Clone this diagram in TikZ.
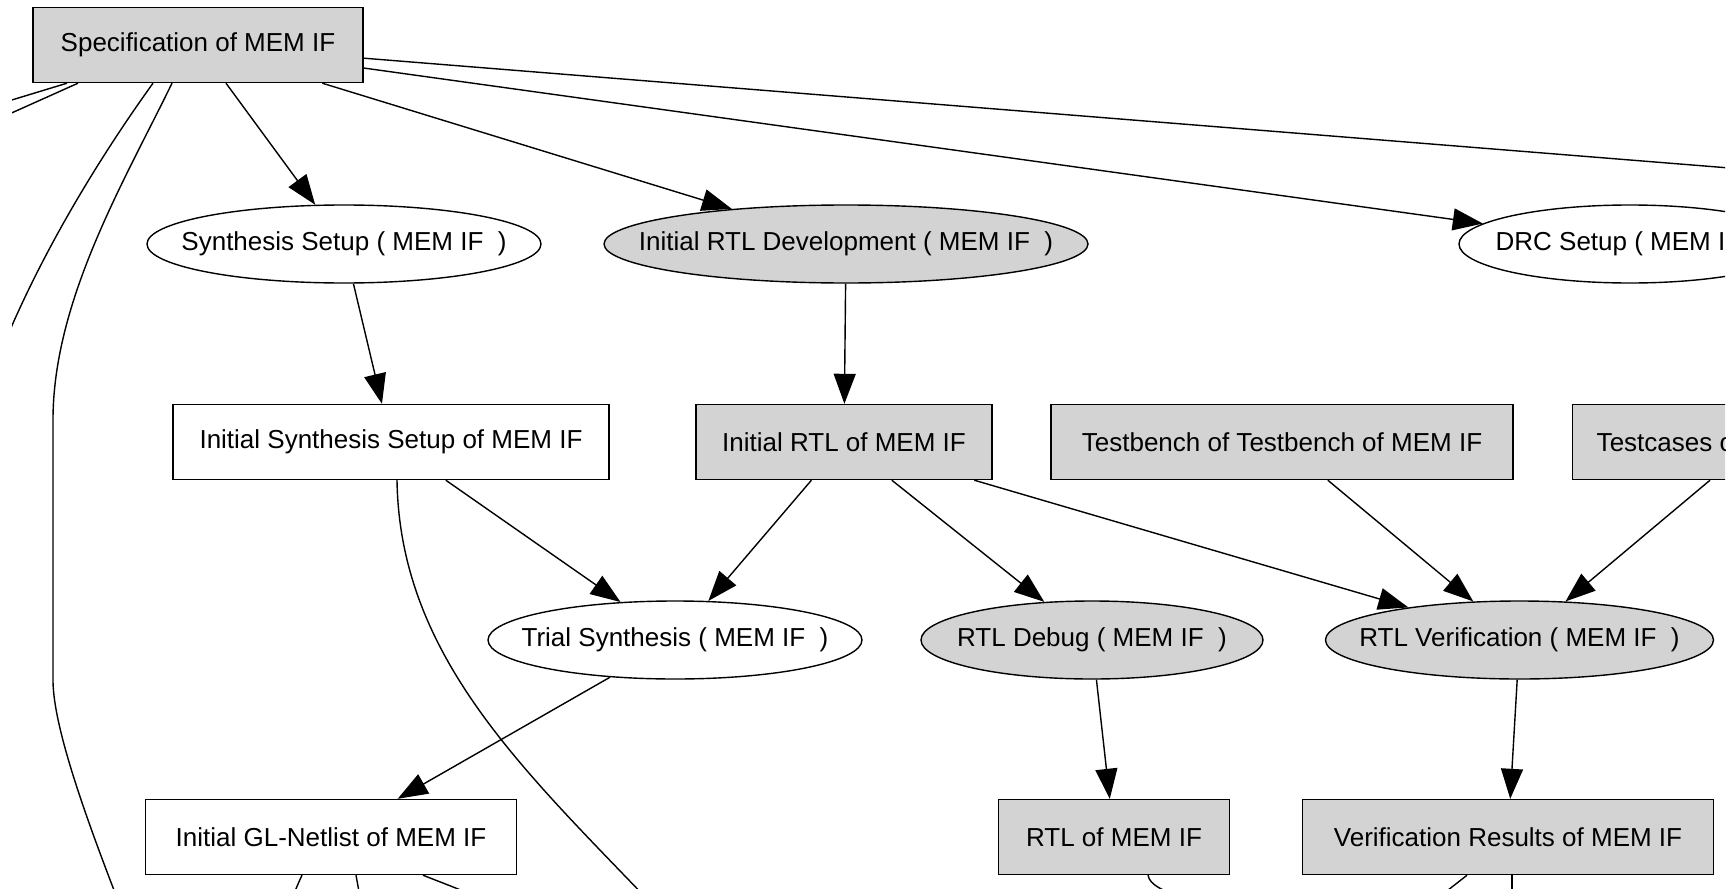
\documentclass[tikz,border=0pt]{standalone}
\usepackage{fontspec}
\setmainfont{Liberation Sans}
\usetikzlibrary{arrows.meta,shapes.geometric}

\definecolor{lightgrey}{RGB}{211,211,211}

\begin{document}
\begin{tikzpicture}[x=.5pt, y=-.5pt, font=\fontsize{13}{15}\selectfont,
    >={Triangle[length=15pt,width=11pt]}, line width=.7pt,
    doc/.style={draw, rectangle, inner xsep=12pt, minimum height=37.5pt},
    task/.style={draw, ellipse, inner sep=0pt, minimum height=39pt},
    done/.style={fill=lightgrey}]
    \useasboundingbox (0,0) rectangle (1733,888);
    \clip (12,0) rectangle (1725,888);
    % work products
    \node[doc,done,minimum width=165pt] (spec) at (198,45) {Specification of MEM IF};
    \node[doc,minimum width=218pt] (isetup) at (391,442) {Initial Synthesis Setup of MEM IF};
    \node[doc,done,minimum width=148pt] (irtl) at (844,442) {Initial RTL of MEM IF};
    \node[doc,done,minimum width=231pt] (tbench) at (1282,442) {Testbench of Testbench of MEM IF};
    \node[doc,done,anchor=west] (tcases) at (1572,442) {Testcases of Testbench of MEM IF};
    \node[doc,minimum width=185.5pt] (glnet) at (331,837) {Initial GL-Netlist of MEM IF};
    \node[doc,done,minimum width=115.5pt] (rtlmem) at (1114,837) {RTL of MEM IF};
    \node[doc,done,minimum width=205.5pt] (verres) at (1508,837) {Verification Results of MEM IF};
    % tasks
    \node[task,minimum width=197pt] (synsetup) at (344,244) {\makebox[0pt]{Synthesis Setup ( MEM IF\ \ )}};
    \node[task,done,minimum width=242pt] (rtldev) at (846,244) {\makebox[0pt]{Initial RTL Development ( MEM IF\ \ )}};
    \node[task,minimum width=171pt] (drc) at (1630,244) {\makebox[0pt]{DRC Setup ( MEM IF\ \ )}};
    \node[task,minimum width=187pt] (trial) at (675,640) {\makebox[0pt]{Trial Synthesis ( MEM IF\ \ )}};
    \node[task,done,minimum width=171pt] (rtldebug) at (1092,640) {\makebox[0pt]{RTL Debug ( MEM IF\ \ )}};
    \node[task,done,minimum width=194pt] (rtlverif) at (1519.5,640) {\makebox[0pt]{RTL Verification ( MEM IF\ \ )}};
    % ends outside the frame
    \coordinate (farright) at (2600,238);
    \coordinate (farleft1) at (-100,134);
    \coordinate (farleft2) at (-100,163);
    \coordinate (farleft3) at (-20,409);
    \coordinate (farbottom1) at (141,960);
    \coordinate (farbottom2) at (704,960);
    \coordinate (gldown1) at (284,930);
    \coordinate (gldown2) at (366,930);
    \coordinate (gldown3) at (520,915);
    \coordinate (rtldown) at (1200,905);
    \coordinate (verdown1) at (1420,912);
    \coordinate (verdown2) at (1512,930);
    % edges
    \foreach \from/\to in {spec/synsetup, spec/rtldev, spec/drc, synsetup/isetup, rtldev/irtl,
        isetup/trial, irtl/trial, irtl/rtldebug, irtl/rtlverif, tbench/rtlverif,
        trial/glnet, rtldebug/rtlmem, rtlverif/verres}
      \draw[->] (\from) -- (\to);
    \draw[->] ([xshift=69pt]tcases.south west) -- (rtlverif);
    \draw (spec) -- (farright);
    \draw ([xshift=-65.5pt]spec.south) -- (farleft1);
    \draw ([xshift=-60pt]spec.south) -- (farleft2);
    \draw ([xshift=-22.5pt]spec.south) .. controls (110,143) and (25,270) .. (farleft3);
    \draw ([xshift=-13pt]spec.south) .. controls (125,180) and (53,300) .. (53,420) -- (53,680)
      .. controls (53,740) and (108,874) .. (farbottom1);
    \draw ([xshift=3pt]isetup.south) .. controls (400,680) and (560,800) .. (farbottom2);
    \draw ([xshift=-14.5pt]glnet.south) .. controls (298,884) and (290,900) .. (gldown1);
    \draw ([xshift=12.5pt]glnet.south) -- (gldown2);
    \draw ([xshift=46pt]glnet.south) .. controls (440,882) and (470,893) .. (gldown3);
    \draw ([xshift=17pt]rtlmem.south) .. controls (1150,885) and (1160,890) .. (rtldown);
    \draw ([xshift=-20.5pt]verres.south) -- (verdown1);
    \draw ([xshift=2pt]verres.south) -- (verdown2);
\end{tikzpicture}
\end{document}
